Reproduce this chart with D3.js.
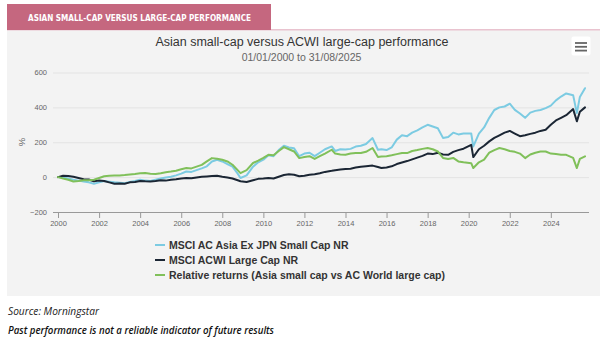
<!DOCTYPE html>
<html>
<head>
<meta charset="utf-8">
<script src="https://cdn.jsdelivr.net/npm/d3@7"></script>
<style>
  html, body { margin: 0; padding: 0; background: #ffffff; }
  svg { display: block; }
</style>
</head>
<body>
<svg id="chart" width="600" height="348"></svg>
<script>
// ---------------- DATA ----------------
const dates = [
  "2000-01-01","2000-04-01","2000-07-01","2000-10-01",
  "2001-01-01","2001-04-01","2001-07-01","2001-10-01",
  "2002-01-01","2002-04-01","2002-07-01","2002-10-01",
  "2003-01-01","2003-04-01","2003-07-01","2003-10-01",
  "2004-01-01","2004-04-01","2004-07-01","2004-10-01",
  "2005-01-01","2005-04-01","2005-07-01","2005-10-01",
  "2006-01-01","2006-04-01","2006-07-01","2006-10-01",
  "2007-01-01","2007-04-01","2007-07-01","2007-10-01",
  "2008-01-01","2008-04-01","2008-07-01","2008-10-01","2008-11-20",
  "2009-03-09","2009-07-01","2009-10-01",
  "2010-01-01","2010-04-01","2010-07-01","2010-10-01",
  "2011-01-01","2011-04-01","2011-07-01","2011-10-01",
  "2012-01-01","2012-04-01","2012-07-01","2012-10-01",
  "2013-01-01","2013-05-01","2013-07-01","2013-10-01",
  "2014-01-01","2014-04-01","2014-07-01","2014-10-01",
  "2015-01-01","2015-04-27","2015-08-01","2015-10-01",
  "2016-01-01","2016-04-01","2016-07-01","2016-10-01",
  "2017-01-01","2017-04-01","2017-07-01","2017-10-01",
  "2018-01-01","2018-04-01","2018-07-01","2018-10-01",
  "2019-01-01","2019-04-01","2019-07-01","2019-10-01",
  "2020-02-15","2020-03-23","2020-07-01","2020-10-01",
  "2021-01-01","2021-04-01","2021-07-01","2021-10-01",
  "2022-01-01","2022-04-01","2022-07-01","2022-10-01",
  "2023-01-01","2023-04-01","2023-07-01","2023-10-01",
  "2024-01-01","2024-04-01","2024-07-01","2024-10-01",
  "2025-02-01","2025-04-08","2025-06-01","2025-08-31"
];

const asiaSmallCap = [
  0, -2, -8, -15,
  -20, -25, -30, -38,
  -30, -22, -26, -30,
  -32, -35, -28, -22,
  -15, -20, -22, -15,
  -8, -2, 2, 10,
  20, 32, 30, 40,
  50, 62, 90, 100,
  90, 75, 60, 20, -5,
  10, 60, 85,
  100, 125, 120, 155,
  180, 170, 165, 120,
  135, 140, 120, 140,
  160, 176, 150, 160,
  158, 162, 175, 180,
  190, 224, 157, 160,
  155, 170, 215, 240,
  235, 255, 268, 285,
  300, 290, 280, 225,
  230, 255, 245, 250,
  250, 176, 250, 285,
  340, 385, 400, 405,
  421, 386, 365, 340,
  370, 380, 385, 396,
  410, 440, 462, 480,
  470, 367, 460, 510
];

const acwiLargeCap = [
  0, 8, 6, 2,
  -5, -12, -14, -24,
  -20, -22, -30, -38,
  -36, -38, -30, -28,
  -22, -24, -25, -22,
  -18, -20, -15, -12,
  -8, -5, -7, -2,
  2, 4, 6, 8,
  2, -2, -8, -18, -24,
  -28, -18, -10,
  -8, -5, -8, 2,
  12, 16, 14, 5,
  8, 14, 16, 22,
  30, 36, 40, 44,
  46, 48, 55, 60,
  63, 66, 58, 52,
  55, 62, 75, 84,
  92, 102, 112, 122,
  135, 132, 140, 130,
  128, 145, 155, 163,
  185, 115, 160, 180,
  205, 225, 240, 255,
  265, 250, 235, 240,
  248, 255, 265, 272,
  300, 325, 340, 355,
  390, 320, 375, 400
];

const relativeReturns = [
  0, -8, -15, -25,
  -22, -18, -18, -15,
  -5, 5, 8, 10,
  10, 12, 15, 18,
  22, 23, 20, 18,
  22, 28, 32, 37,
  45, 52, 50, 60,
  70, 90, 109, 105,
  100, 90, 71, 40, 23,
  40, 81, 95,
  110, 128, 125, 150,
  172, 160, 147, 109,
  115, 120, 104, 120,
  135, 157, 135, 130,
  128, 135, 138, 138,
  145, 167, 115, 118,
  120, 125, 132, 138,
  138, 150, 155, 162,
  167, 160, 147, 110,
  104, 110, 90, 85,
  80, 52, 85, 100,
  140, 155, 167, 160,
  150, 145, 135, 109,
  130, 140, 147, 147,
  135, 132, 128, 128,
  110, 52, 105, 119
];

const seriesNames = [
  "MSCI AC Asia Ex JPN Small Cap NR",
  "MSCI ACWI Large Cap NR",
  "Relative returns (Asia small cap vs AC World large cap)"
];
const seriesColors = ["#7ccbe2", "#1b2634", "#80c05a"];
const xTickYears = [2000,2002,2004,2006,2008,2010,2012,2014,2016,2018,2020,2022,2024];
const yTickValues = [-200, 0, 200, 400, 600];

const headerText = "ASIAN SMALL-CAP VERSUS LARGE-CAP PERFORMANCE";
const titleText = "Asian small-cap versus ACWI large-cap performance";
const subtitleText = "01/01/2000 to 31/08/2025";
const yAxisTitle = "%";
const sourceText = "Source: Morningstar";
const disclaimerText = "Past performance is not a reliable indicator of future results";

// ---------------- DRAW ----------------
const parse = d3.timeParse("%Y-%m-%d");
const dts = dates.map(parse);
const seriesValues = [asiaSmallCap, acwiLargeCap, relativeReturns];
const series = seriesNames.map((name, i) => ({
  name, color: seriesColors[i],
  points: dts.map((d, j) => ({ date: d, value: seriesValues[i][j] }))
}));

const svg = d3.select("#chart");
const FONT = "'Liberation Sans', Arial, Helvetica, sans-serif";

// header tab and panel
svg.append("rect").attr("x", 7).attr("y", 30).attr("width", 593).attr("height", 266).attr("fill", "#f3f3f3");
svg.append("rect").attr("x", 7).attr("y", 29).attr("width", 593).attr("height", 1.5).attr("fill", "#e9c3cf");
svg.append("rect").attr("x", 7).attr("y", 4).attr("width", 264).attr("height", 26).attr("fill", "#c5677f");
svg.append("text").attr("x", 28).attr("y", 20.5)
  .attr("font-family", "'DejaVu Sans Condensed', 'Liberation Sans Narrow', Arial, sans-serif")
  .attr("font-weight", "bold").attr("font-size", 9.5).attr("fill", "#ffffff")
  .attr("textLength", 223).attr("lengthAdjust", "spacingAndGlyphs")
  .text(headerText);

// title
svg.append("text").attr("x", 302).attr("y", 46).attr("text-anchor", "middle")
  .attr("font-family", FONT).attr("font-size", 12.5).attr("fill", "#333333").text(titleText);
svg.append("text").attr("x", 301.5).attr("y", 61).attr("text-anchor", "middle")
  .attr("font-family", FONT).attr("font-size", 10.5).attr("fill", "#666666").text(subtitleText);

// menu button
const menu = svg.append("g");
menu.append("rect").attr("x", 571.5).attr("y", 36.5).attr("width", 19).attr("height", 19).attr("rx", 2).attr("fill", "#ffffff");
[43, 46.8, 50.6].forEach(yy => {
  menu.append("line").attr("x1", 575).attr("x2", 587).attr("y1", yy).attr("y2", yy)
    .attr("stroke", "#666666").attr("stroke-width", 1.8);
});

// scales
const plotLeft = 53, plotRight = 589;
const x = d3.scaleTime().domain([parse("2000-01-01"), parse("2025-08-31")]).range([58, 585]);
const y = d3.scaleLinear().domain([-200, 600]).range([212, 72.5]);

// y axis with gridlines
const yAxis = svg.append("g").attr("transform", `translate(${plotLeft},0)`)
  .call(d3.axisLeft(y).tickValues(yTickValues).tickSize(-(plotRight - plotLeft)).tickPadding(6));
yAxis.select(".domain").remove();
yAxis.selectAll(".tick line").attr("stroke", "#e3e3e3").attr("stroke-width", 1);
yAxis.selectAll(".tick text").attr("font-family", FONT).attr("font-size", 7.5).attr("fill", "#666666");

svg.append("text").attr("transform", "translate(25,142) rotate(-90)").attr("text-anchor", "middle")
  .attr("font-family", FONT).attr("font-size", 9.5).attr("fill", "#666666").text(yAxisTitle);

// x axis
const xAxis = svg.append("g").attr("transform", `translate(0,${y(-200)})`)
  .call(d3.axisBottom(x).tickValues(xTickYears.map(yr => new Date(yr, 0, 1)))
    .tickFormat(d3.timeFormat("%Y")).tickSize(6).tickPadding(3));
xAxis.select(".domain").remove();
xAxis.selectAll(".tick line").attr("stroke", "#999999");
xAxis.selectAll(".tick text").attr("font-family", FONT).attr("font-size", 7.5).attr("fill", "#666666");
xAxis.append("line").attr("x1", plotLeft).attr("x2", plotRight).attr("y1", 0.5).attr("y2", 0.5)
  .attr("stroke", "#999999").attr("stroke-width", 1);

// lines
const line = d3.line().x(d => x(d.date)).y(d => y(d.value));
svg.append("g").selectAll("path").data(series).join("path")
  .attr("d", d => line(d.points))
  .attr("fill", "none").attr("stroke", d => d.color).attr("stroke-width", 2)
  .attr("stroke-linejoin", "round").attr("stroke-linecap", "round");

// legend
const legend = svg.append("g").selectAll("g").data(series).join("g")
  .attr("transform", (d, i) => `translate(155,${245 + i * 15})`);
legend.append("line").attr("x1", 0).attr("x2", 10).attr("y1", 0).attr("y2", 0)
  .attr("stroke", d => d.color).attr("stroke-width", 2);
legend.append("text").attr("x", 14).attr("y", 3.8)
  .attr("font-family", FONT).attr("font-weight", "bold").attr("font-size", 10.5).attr("fill", "#333333")
  .text(d => d.name);

// footer
svg.append("text").attr("x", 8).attr("y", 315)
  .attr("font-family", "'Open Sans', 'DejaVu Sans', sans-serif").attr("font-style", "italic")
  .attr("font-size", 10).attr("fill", "#222222")
  .attr("textLength", 91).attr("lengthAdjust", "spacingAndGlyphs").text(sourceText);
svg.append("text").attr("x", 8).attr("y", 333.5)
  .attr("font-family", "'Open Sans', 'DejaVu Sans', sans-serif").attr("font-style", "italic").attr("font-weight", 600)
  .attr("font-size", 10).attr("fill", "#111111")
  .attr("textLength", 266).attr("lengthAdjust", "spacingAndGlyphs").text(disclaimerText);
</script>
</body>
</html>
